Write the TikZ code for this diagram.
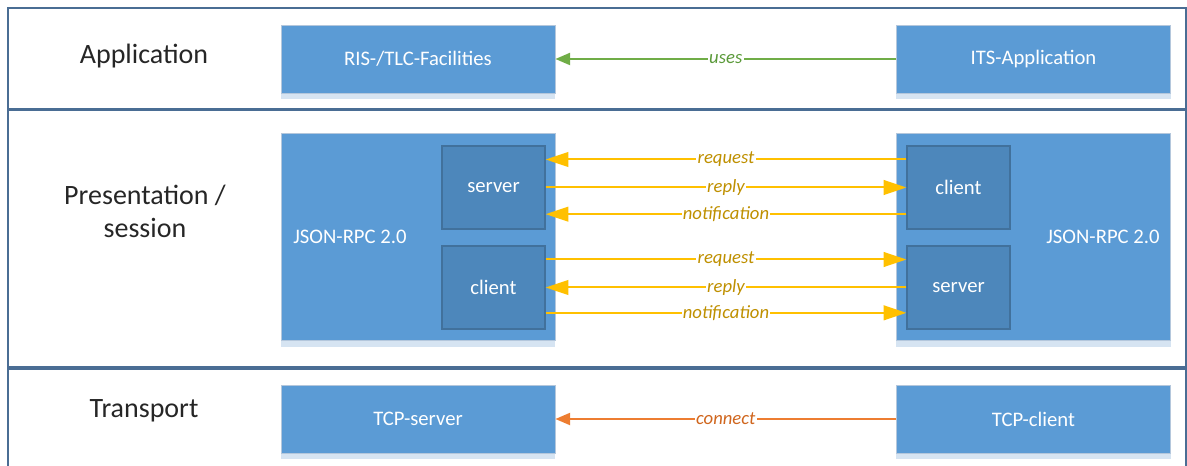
\documentclass[tikz,border=0pt]{standalone}
\usepackage{fontspec}
\setmainfont{Carlito}
\usepackage{tikz}
\usetikzlibrary{positioning, arrows.meta}

\definecolor{frameblue}{HTML}{4A6D94}
\definecolor{boxblue}{HTML}{5B9BD5}
\definecolor{boxedge}{HTML}{B4C7DC}
\definecolor{boxshadow}{HTML}{D6E4F2}
\definecolor{partblue}{HTML}{4D87BB}
\definecolor{partedge}{HTML}{41719C}
\definecolor{msgyellow}{HTML}{FFC000}
\definecolor{msgtext}{HTML}{BF9000}
\definecolor{usesgreen}{HTML}{70AD47}
\definecolor{usestext}{HTML}{5B9A3A}
\definecolor{connorange}{HTML}{ED7D31}
\definecolor{conntext}{HTML}{D0661E}

\begin{document}
\begin{tikzpicture}[
        x=0.75pt, y=-0.75pt,
        layer/.style={draw=frameblue, line width=1.5pt},
        layername/.style={align=center, text=black!85, font=\fontsize{21}{24.75}\selectfont},
        box/.style={rectangle, draw=boxedge, line width=0.6pt, fill=boxblue, text=white, minimum width=205.5pt, minimum height=51pt, inner sep=0pt, font=\fontsize{15.5}{18}\selectfont},
        bigbox/.style={box, minimum height=155.25pt},
        part/.style={rectangle, draw=partedge, line width=1pt, fill=partblue, text=white, minimum width=77.25pt, minimum height=62.25pt, inner sep=0pt, font=\fontsize{15.5}{18}\selectfont},
        msg/.style={-{Triangle[length=17pt,width=11pt]}, draw=msgyellow, line width=1.5pt},
        uses/.style={-{Triangle[length=11pt,width=9pt]}, draw=usesgreen, line width=1.5pt},
        conn/.style={-{Triangle[length=11pt,width=9pt]}, draw=connorange, line width=1.5pt},
        lbl/.style={fill=white, inner sep=1pt, font=\itshape\fontsize{14}{16}\selectfont}
        ]

        \useasboundingbox (0,0) rectangle (1187,466);

        % layers
        \draw[layer] (8,8) rectangle (1186,109);
        \draw[layer] (8,110) rectangle (1186,367);
        \draw[layer] (8,369) rectangle (1186,480);

        \node[layername] (lapp) at (144,56) {Application};
        \node[layername] (lpres) at (145,211) {Presentation /\\session};
        \node[layername] (ltrans) at (144,411) {Transport};

        % application
        \node[box] (ris) at (418,59) {RIS-/TLC-Facilities};
        \node[box] (its) at (1033.5,59) {ITS-Application};

        % presentation / session
        \node[bigbox] (ljson) at (418,237) {};
        \node[bigbox] (rjson) at (1033.5,237) {};
        \node[text=white, font=\fontsize{15.5}{18}\selectfont, anchor=west] (ljsontext) at ([xshift=6pt]ljson.west) {JSON-RPC 2.0};
        \node[text=white, font=\fontsize{15.5}{18}\selectfont, anchor=east] (rjsontext) at ([xshift=-5pt]rjson.east) {JSON-RPC 2.0};
        \node[part] (lsrv) at (493.5,187.5) {server};
        \node[part] (lcli) at (493.5,287.5) {client};
        \node[part] (rcli) at (958.5,187.5) {client};
        \node[part] (rsrv) at (958.5,287.5) {server};

        % transport
        \node[box] (tcps) at (418,419) {TCP-server};
        \node[box] (tcpc) at (1033.5,419) {TCP-client};

        \foreach \n in {ris,its,ljson,rjson,tcps,tcpc}
            \fill[boxshadow] ([yshift=-0.3pt]\n.south west) rectangle ([yshift=-4.5pt]\n.south east);

        \draw[uses] (its.west) -- node[lbl, text=usestext] (usesl) {uses} (ris.east);

        \draw[msg] ([yshift=21pt]rcli.west) -- node[lbl, text=msgtext] {request} ([yshift=21pt]lsrv.east);
        \draw[msg] (lsrv.east) -- node[lbl, text=msgtext] {reply} (rcli.west);
        \draw[msg] ([yshift=-20pt]rcli.west) -- node[lbl, text=msgtext] {notification} ([yshift=-20pt]lsrv.east);
        \draw[msg] ([yshift=21pt]lcli.east) -- node[lbl, text=msgtext] {request} ([yshift=21pt]rsrv.west);
        \draw[msg] (rsrv.west) -- node[lbl, text=msgtext] {reply} (lcli.east);
        \draw[msg] ([yshift=-19pt]lcli.east) -- node[lbl, text=msgtext] {notification} ([yshift=-19pt]rsrv.west);

        \draw[conn] (tcpc.west) -- node[lbl, text=conntext] (connl) {connect} (tcps.east);
    \end{tikzpicture}
\end{document}
